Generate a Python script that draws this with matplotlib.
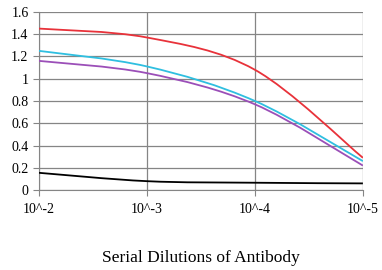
import matplotlib
matplotlib.use('Agg')
import matplotlib.pyplot as plt
import numpy as np
from matplotlib.path import Path
from matplotlib.patches import PathPatch

plt.rcParams['font.family'] = ['Liberation Serif', 'DejaVu Serif']

dilutions = ['10^-2', '10^-3', '10^-4', '10^-5']
red_vals = [1.45, 1.37, 1.08, 0.29]
cyan_vals = [1.25, 1.11, 0.80, 0.26]
purple_vals = [1.16, 1.05, 0.77, 0.22]
black_vals = [0.155, 0.08, 0.066, 0.06]


def smooth_path(xs, ys, k=1 / 6):
    # Bezier curve through the points, like a spreadsheet "smoothed line"
    pts = list(zip(xs, ys))
    verts = [pts[0]]
    codes = [Path.MOVETO]
    n = len(pts)
    for i in range(n - 1):
        p0 = pts[i - 1] if i > 0 else pts[i]
        p1 = pts[i]
        p2 = pts[i + 1]
        p3 = pts[i + 2] if i + 2 < n else pts[i + 1]
        c1 = (p1[0] + (p2[0] - p0[0]) * k, p1[1] + (p2[1] - p0[1]) * k)
        c2 = (p2[0] - (p3[0] - p1[0]) * k, p2[1] - (p3[1] - p1[1]) * k)
        verts += [c1, c2, p2]
        codes += [Path.CURVE4] * 3
    return Path(verts, codes)


fig = plt.figure(figsize=(3.82, 2.70), dpi=100)
ax = fig.add_axes([0.102, 0.296, 0.848, 0.660])

x = np.arange(len(dilutions))
for vals, col in [(black_vals, '#000000'), (purple_vals, '#9b4fb8'),
                  (cyan_vals, '#2fbfe0'), (red_vals, '#e8323a')]:
    ax.add_patch(PathPatch(smooth_path(x, vals), facecolor='none',
                           edgecolor=col, lw=1.3, zorder=3))

ax.set_xlim(0, 3)
ax.set_ylim(0, 1.6)
ax.set_xticks(x)
ax.set_xticklabels(dilutions)
ax.set_yticks(np.arange(0, 1.61, 0.2))
ax.set_yticklabels(['0', '0.2', '0.4', '0.6', '0.8', '1', '1.2', '1.4', '1.6'])
ax.grid(True, color='#858585', lw=0.9)
for s in ['top', 'right']:
    ax.spines[s].set_visible(False)
ax.spines['left'].set_color('#858585')
ax.spines['bottom'].set_color('#858585')
ax.tick_params(colors='#858585', labelcolor='black', labelsize=10, length=4)
ax.tick_params(axis='x', pad=5)
ax.set_xlabel('Serial Dilutions of Antibody', fontsize=12.5, labelpad=25)

plt.savefig('out.png', dpi=100)
